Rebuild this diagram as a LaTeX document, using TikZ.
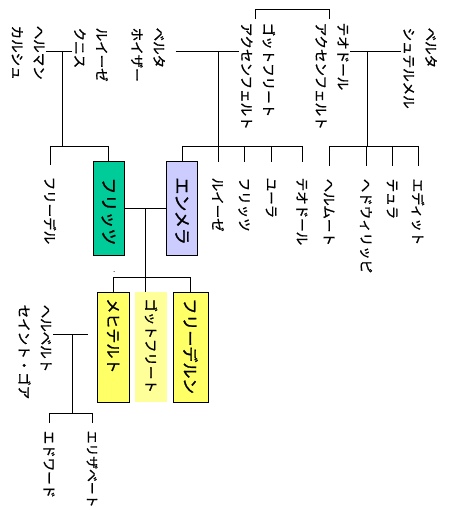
\documentclass[tikz,border=0pt]{standalone}
\usepackage{fontspec}
\setmainfont{Noto Sans CJK JP}[FakeBold=1.2]
\begin{document}
\begin{tikzpicture}[x=1pt,y=-1pt,
  lbl/.style={rotate=-90, anchor=west, inner sep=1.5pt, align=left,
    font=\fontsize{13.5}{22}\selectfont},
  conn/.style={draw=black, line width=0.8pt},
  gbox/.style={rotate=-90, anchor=west, draw=black, line width=0.8pt,
    inner sep=2pt, align=left, minimum height=31pt},
  gentwo/.style={gbox, text width=90pt, font=\fontsize{17}{20}\selectfont},
  genthree/.style={gbox, text width=106pt}
]
\useasboundingbox (0,0) rectangle (448,510);

% ---- first generation (couples)
\node[lbl] (hk) at (28,24) {ヘルマン\\カルシュ};
\node[lbl] (lk) at (91,26) {ルイーゼ\\クニス};
\node[lbl] (bh) at (148,26) {ベルタ\\ホイザー};
\node[lbl] (ga) at (258,21) {ゴットフリート\\アクセンフェルト};
\node[lbl] (ta) at (332,21) {テオドール\\アクセンフェルト};
\node[lbl] (bs) at (420,26) {ベルタ\\シュテルメル};

% ---- second generation
\node[lbl] (fd) at (50,175) {フリーデル};
\node[gentwo, fill={rgb,255:red,0;green,204;blue,153}] (fr) at (108.5,161) {\hspace*{14pt}フリッツ};
\node[gentwo, fill={rgb,255:red,204;green,204;blue,255}] (em) at (182,161) {\hspace*{14pt}エンメラ};
\node[lbl] (lu) at (218,176) {ルイーゼ};
\node[lbl] (fz) at (244,176) {フリッツ};
\node[lbl] (yu) at (271,176) {ユーラ};
\node[lbl] (th) at (302,176) {テオドール};
\node[lbl] (he) at (329,177) {ヘルムート};
\node[lbl] (hd) at (366,177) {ヘドウィリッピ};
\node[lbl] (ty) at (392,177) {テュラ};
\node[lbl] (ed) at (418,177) {エディット};

% ---- third generation
\node[lbl] (hs) at (35,303) {ヘルベルト\\セイント・ゴア};
\node[genthree, fill={rgb,255:red,255;green,255;blue,102}, minimum height=32pt,
  font=\fontsize{15}{18}\selectfont] (me) at (113,292) {\hspace*{4pt}メヒテルト};
\node[genthree, draw=none, fill={rgb,255:red,255;green,255;blue,153}, minimum height=32pt,
  font=\fontsize{13.5}{16}\selectfont] (gb) at (151,292) {\hspace*{4pt}ゴットフリート};
\node[genthree, fill={rgb,255:red,255;green,255;blue,102}, minimum height=35pt,
  font=\fontsize{16}{18}\selectfont] (fl) at (190.5,292) {\hspace*{4pt}フリーデルン};

% ---- fourth generation
\node[lbl] (eh) at (49,429) {エドワード};
\node[lbl, font=\fontsize{12.8}{16}\selectfont] (el) at (92,429) {エリザベート};

% ---- helper coordinates
\coordinate (t1) at (255.5,9);
\coordinate (t2) at (329.5,9);
\coordinate (m1) at (62,51);
\coordinate (m2) at (218,51);
\coordinate (m3) at (367,51);
\coordinate (m4) at (145.7,208.3);
\coordinate (m5) at (72,334);
\coordinate (c1) at (0,146);
\coordinate (c2) at (0,146);
\coordinate (c3) at (0,146);
\coordinate (c4) at (0,277);
\coordinate (c5) at (0,413);

% ---- connectors
\draw[conn, shorten <=2pt, shorten >=2pt] (t1 |- ga.west) -- (t1) -- (t2) -- (t2 |- ta.west);

\draw[conn] (hk.north |- m1) -- (lk.south |- m1);
\draw[conn] (m1) -- (m1 |- c1);
\draw[conn] (fd.west |- c1) -- (fr.west |- c1);
\draw[conn, shorten >=10pt] (fd.west |- c1) -- (fd.west);
\draw[conn] (fr.west |- c1) -- (fr.west);

\draw[conn, shorten <=9pt] (bh.north |- m2) -- (ga.south |- m2);
\draw[conn] (m2) -- (m2 |- c2);
\draw[conn] (em.west |- c2) -- (th.west |- c2);
\draw[conn] (em.west |- c2) -- (em.west);
\foreach \n in {lu,fz,yu,th}
  \draw[conn, shorten >=14pt] (\n.west |- c2) -- (\n.west);

\draw[conn] (ta.north |- m3) -- (bs.south |- m3);
\draw[conn] (m3) -- (m3 |- c3);
\draw[conn] (he.west |- c3) -- (ed.west |- c3);
\foreach \n in {he,hd,ty,ed}
  \draw[conn, shorten >=11pt] (\n.west |- c3) -- (\n.west);

\draw[conn] (fr.north |- m4) -- (em.south |- m4);
\draw[conn] (m4) -- (m4 |- gb.west);
\draw[conn] (me.west |- c4) -- (fl.west |- c4);
\draw[conn] (me.west |- c4) -- (me.west);
\draw[conn] (fl.west |- c4) -- (fl.west);
\fill (114,271.5) circle (0.5pt);

\draw[conn, shorten >=9pt] (hs.north |- m5) -- (me.south |- m5);
\draw[conn] (m5) -- (m5 |- c5);
\draw[conn] (eh.west |- c5) -- (el.west |- c5);
\draw[conn, shorten >=6pt] (eh.west |- c5) -- (eh.west);
\draw[conn, shorten >=6pt] (el.west |- c5) -- (el.west);
\end{tikzpicture}
\end{document}
